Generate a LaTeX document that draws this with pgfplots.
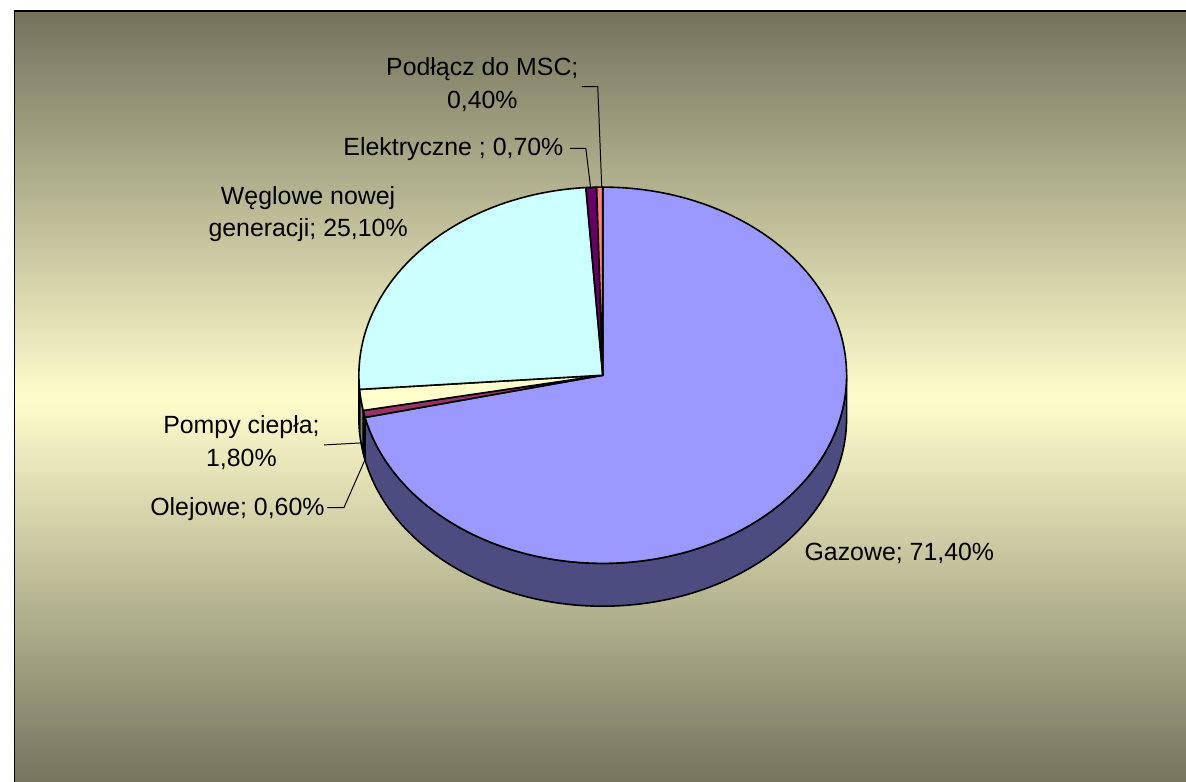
\documentclass[border=0pt]{standalone}
\usepackage{pgfplots}
\pgfplotsset{compat=1.18}
\usepackage{pgfplotstable}
\usepackage{fontspec}
\setmainfont{Liberation Sans}
\definecolor{bgdark}{RGB}{115,115,92}
\definecolor{bglight}{RGB}{255,253,204}
\definecolor{c0}{RGB}{153,153,255}
\definecolor{c1}{RGB}{153,51,102}
\definecolor{c2}{RGB}{255,255,204}
\definecolor{c3}{RGB}{204,255,255}
\definecolor{c4}{RGB}{102,0,102}
\definecolor{c5}{RGB}{255,128,128}
\colorlet{s0}{c0!50!black}
\colorlet{s1}{c1!50!black}
\colorlet{s2}{c2!50!black}
\colorlet{s3}{c3!50!black}
\colorlet{s4}{c4!50!black}
\colorlet{s5}{c5!50!black}
\newcommand\lbl{\fontsize{12.5}{16.5}\selectfont}
% Gazowe, Olejowe, Pompy ciepla, Weglowe, Elektryczne, Podlacz do MSC
\pgfplotstableread{
idx value
0 71.4
1 0.6
2 1.8
3 25.1
4 0.7
5 0.4
}\piedata
\begin{document}
\def\mycum{0}
\pgfplotsforeachungrouped \i in {0,...,5}{%
  \pgfplotstablegetelem{\i}{value}\of\piedata
  \let\myV\pgfplotsretval
  \pgfmathsetmacro\myS{90-3.6*\mycum}%
  \pgfmathsetmacro\mycum{\mycum+\myV}%
  \pgfmathsetmacro\myE{90-3.6*\mycum}%
  \expandafter\xdef\csname sa\i\endcsname{\myS}%
  \expandafter\xdef\csname ea\i\endcsname{\myE}%
  \pgfmathsetmacro\myFa{min(\myS,0)}%
  \pgfmathsetmacro\myFb{max(\myE,-180)}%
  \expandafter\xdef\csname fa\i\endcsname{\myFa}%
  \expandafter\xdef\csname fb\i\endcsname{\myFb}%
  \pgfmathtruncatemacro\myFf{\myFa>\myFb ? 1 : 0}%
  \expandafter\xdef\csname ff\i\endcsname{\myFf}%
}%
\begin{tikzpicture}
\begin{axis}[x=0.5pt,y=0.5pt,y dir=reverse,
  xmin=0,xmax=1186,ymin=0,ymax=785,
  hide axis,clip=false]
\coordinate (BL) at (axis cs:0,785);
\coordinate (TR) at (axis cs:1186,0);
\fill[white] (axis cs:0,0) rectangle (axis cs:1186,785);
\shade[top color=bgdark,bottom color=bgdark,middle color=bglight] (axis cs:9,11) rectangle (axis cs:1200,790);
\draw[line width=0.9pt] (axis cs:9,800) -- (axis cs:9,11) -- (axis cs:1200,11);
% side walls
\pgfplotsinvokeforeach{0,...,5}{%
  \ifnum\csname ff#1\endcsname=1
  \filldraw[fill=s#1,draw=black,line width=0.8pt,line join=round]
    (axis cs:600,377) ++(\csname fa#1\endcsname:122.5pt and 94.5pt)
    arc[start angle=\csname fa#1\endcsname, end angle=\csname fb#1\endcsname, x radius=122.5pt, y radius=94.5pt]
    -- ++(0pt,-21.5pt)
    arc[start angle=\csname fb#1\endcsname, end angle=\csname fa#1\endcsname, x radius=122.5pt, y radius=94.5pt]
    -- cycle;
  \fi
}
% top faces
\pgfplotsinvokeforeach{0,...,5}{%
  \filldraw[fill=c#1,draw=black,line width=0.8pt,line join=round]
    (axis cs:600,377) -- ++(\csname sa#1\endcsname:122.5pt and 94.5pt)
    arc[start angle=\csname sa#1\endcsname, end angle=\csname ea#1\endcsname, x radius=122.5pt, y radius=94.5pt]
    -- cycle;
}
% leader lines
\draw[line width=0.5pt] (axis cs:579,87) -- (axis cs:595,87) -- (axis cs:599,188);
\draw[line width=0.5pt] (axis cs:567,149) -- (axis cs:583,149) -- (axis cs:588,190);
\draw[line width=0.5pt] (axis cs:320,447) -- (axis cs:357,445);
\draw[line width=0.5pt] (axis cs:323,510) -- (axis cs:340,510) -- (axis cs:362,460);
% labels
\node[font=\lbl,align=center,inner sep=0pt] at (axis cs:479,85) {Podłącz do MSC;\\0,40\%};
\node[font=\lbl,align=center,inner sep=0pt] at (axis cs:450,150) {Elektryczne ; 0,70\%};
\node[font=\lbl,align=center,inner sep=0pt] at (axis cs:304,215) {Węglowe nowej\\generacji; 25,10\%};
\node[font=\lbl,align=center,inner sep=0pt] at (axis cs:237,445) {Pompy ciepła;\\1,80\%};
\node[font=\lbl,align=center,inner sep=0pt] at (axis cs:233,511) {Olejowe; 0,60\%};
\node[font=\lbl,align=center,inner sep=0pt] at (axis cs:898,556) {Gazowe; 71,40\%};
\end{axis}
\pgfresetboundingbox
\useasboundingbox (BL) rectangle (TR);
\end{tikzpicture}
\end{document}
